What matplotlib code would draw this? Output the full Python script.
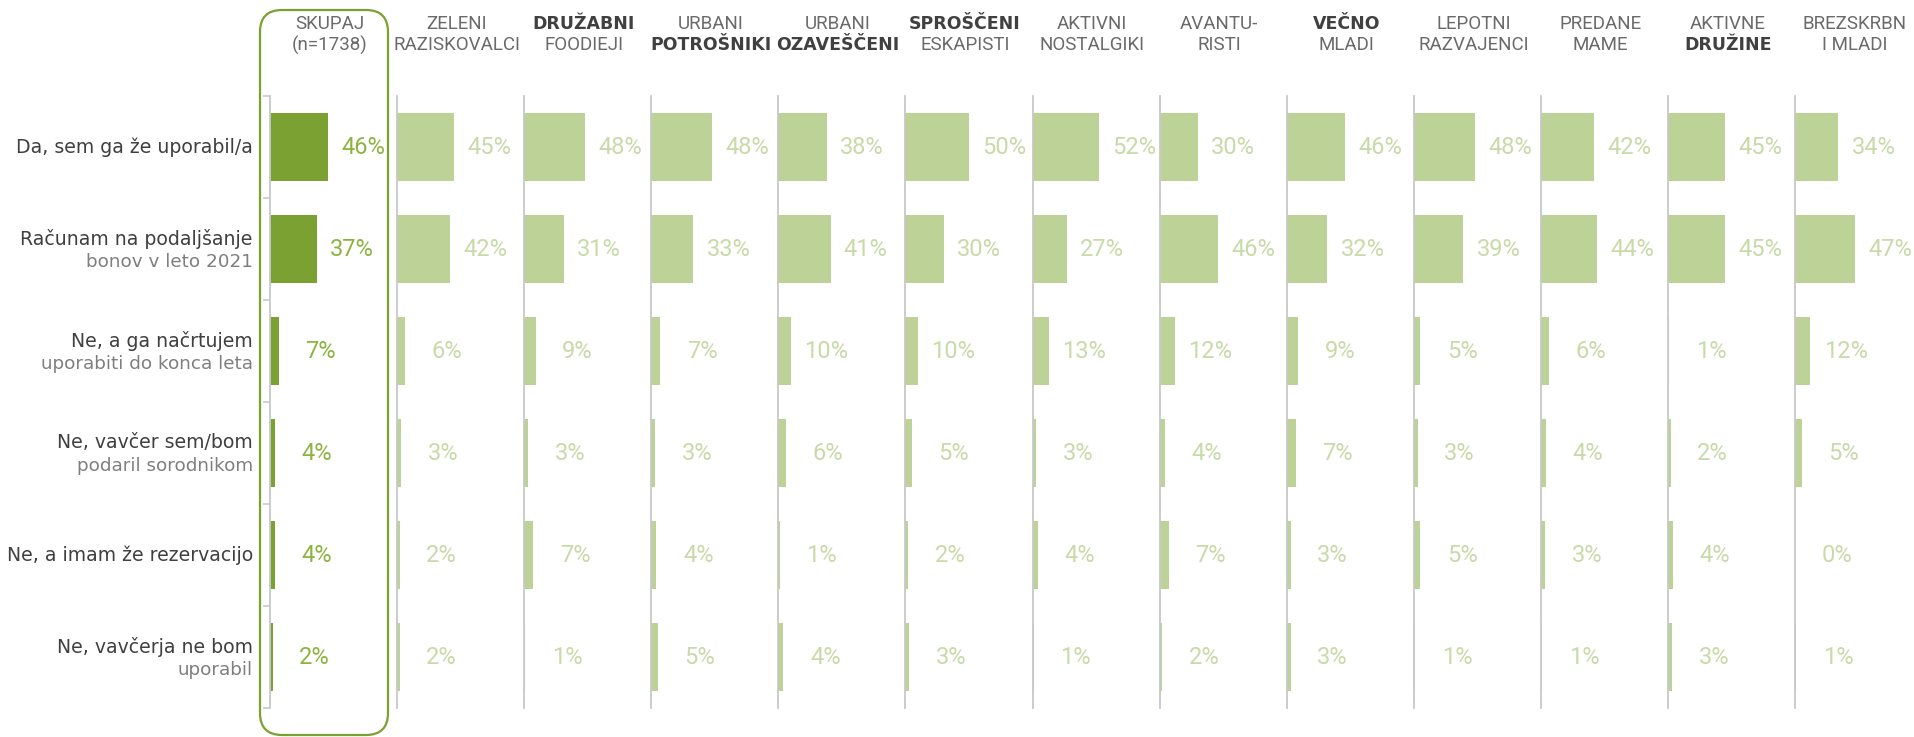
import numpy as np
import matplotlib
matplotlib.use("Agg")
import matplotlib.pyplot as plt
from matplotlib.patches import FancyBboxPatch

# data
groups_top = ["SKUPAJ", "ZELENI", "DRUŽABNI", "URBANI", "URBANI", "SPROŠČENI", "AKTIVNI",
              "AVANTU-", "VEČNO", "LEPOTNI", "PREDANE", "AKTIVNE", "BREZSKRBN"]
groups_bottom = ["(n=1738)", "RAZISKOVALCI", "FOODIEJI", "POTROŠNIKI", "OZAVEŠČENI", "ESKAPISTI",
                 "NOSTALGIKI", "RISTI", "MLADI", "RAZVAJENCI", "MAME", "DRUŽINE", "I MLADI"]
# which header line is bold: 0 = none, 1 = top, 2 = bottom
bold_line = [0, 0, 1, 2, 2, 1, 0, 0, 1, 0, 0, 2, 0]

answers_main = ["Da, sem ga že uporabil/a", "Računam na podaljšanje", "Ne, a ga načrtujem",
                "Ne, vavčer sem/bom", "Ne, a imam že rezervacijo", "Ne, vavčerja ne bom"]
answers_sub = ["", "bonov v leto 2021", "uporabiti do konca leta",
               "podaril sorodnikom", "", "uporabil"]

da_uporabil = [46, 45, 48, 48, 38, 50, 52, 30, 46, 48, 42, 45, 34]
podaljsanje = [37, 42, 31, 33, 41, 30, 27, 46, 32, 39, 44, 45, 47]
nacrtujem = [7, 6, 9, 7, 10, 10, 13, 12, 9, 5, 6, 1, 12]
podaril = [4, 3, 3, 3, 6, 5, 3, 4, 7, 3, 4, 2, 5]
rezervacija = [4, 2, 7, 4, 1, 2, 4, 7, 3, 5, 3, 4, 0]
ne_bom = [2, 2, 1, 5, 4, 3, 1, 2, 3, 1, 1, 3, 1]

values = np.array([da_uporabil, podaljsanje, nacrtujem, podaril, rezervacija, ne_bom])

W, H, DPI = 1915, 737, 100
fig = plt.figure(figsize=(W / DPI, H / DPI), dpi=DPI)

x0, pw = 270, 127.1       # first panel left edge and panel width, px
ytop, ybot = 96, 708      # plot area, px from top

dark_green = "#7aa131"
light_green = "#bdd296"
lab_dark = "#8db440"
lab_light = "#c8daa8"
axis_gray = "#c8c8c8"

thin_font = dict(family="Roboto", weight="normal")

rows = np.arange(len(answers_main))
for i in range(len(groups_top)):
    ax = fig.add_axes([(x0 + pw * i) / W, 1 - ybot / H, pw / W, (ybot - ytop) / H])
    ax.set_xlim(0, 100)
    ax.set_ylim(5.5, -0.5)
    col = values[:, i]
    c = dark_green if i == 0 else light_green
    ax.barh(rows, col, height=0.66, color=c)
    for r, v in zip(rows, col):
        ax.text(v + 45, r, f"{v}%", ha="right", va="center", fontsize=17,
                color=lab_dark if i == 0 else lab_light, **thin_font)
    for s in ["top", "right", "bottom"]:
        ax.spines[s].set_visible(False)
    ax.spines["left"].set_color(axis_gray)
    ax.spines["left"].set_linewidth(1.3)
    ax.set_xticks([])
    if i == 0:
        ax.set_yticks(np.arange(-0.5, 6, 1))
        ax.set_yticklabels([])
        ax.tick_params(axis="y", length=5, color=axis_gray, width=1.2)
        tr = ax.get_yaxis_transform()
        for r in rows:
            if answers_sub[r]:
                ax.text(-0.135, r - 0.1, answers_main[r], transform=tr, ha="right", va="center",
                        fontsize=13.6, color="#404040")
                ax.text(-0.135, r + 0.125, answers_sub[r], transform=tr, ha="right", va="center",
                        fontsize=13.2, color="#7f7f7f")
            else:
                ax.text(-0.135, r, answers_main[r], transform=tr, ha="right", va="center",
                        fontsize=13.6, color="#404040")
    else:
        ax.set_yticks([])

    # header
    xc = (x0 + pw * i + pw / 2 - 4) / W
    for line, (txt, yy) in enumerate([(groups_top[i], 24), (groups_bottom[i], 45)], start=1):
        if bold_line[i] == line:
            fig.text(xc, 1 - yy / H, txt, ha="center", va="center", fontsize=12.5,
                     fontweight="bold", color="#404040", family="DejaVu Sans")
        else:
            fig.text(xc, 1 - yy / H, txt, ha="center", va="center", fontsize=13.5,
                     color="#6a6a6a", **thin_font)

# rounded frame around SKUPAJ
box = FancyBboxPatch((2.60, 0.02), 1.28, 7.25,
                     boxstyle="round,pad=0,rounding_size=0.22",
                     transform=fig.dpi_scale_trans, fill=False,
                     edgecolor=dark_green, linewidth=1.6)
fig.patches.append(box)

fig.savefig("out.png", dpi=DPI)
